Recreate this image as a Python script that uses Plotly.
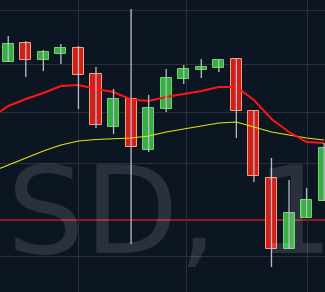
import plotly.graph_objects as go

# ---- data ----
idx = list(range(19))
opens  = [1.3038, 1.3057, 1.3040, 1.3046, 1.3052, 1.3026, 1.2973, 1.3001, 1.2950, 1.2991,
          1.3021, 1.3030, 1.3032, 1.3041, 1.2989, 1.2922, 1.2851, 1.2882, 1.2899]
highs  = [1.3064, 1.3059, 1.3050, 1.3056, 1.3054, 1.3033, 1.3011, 1.3091, 1.3005, 1.3031,
          1.3035, 1.3041, 1.3041, 1.3041, 1.2989, 1.2942, 1.2920, 1.2912, 1.2957]
lows   = [1.3038, 1.3023, 1.3029, 1.3036, 1.2991, 1.2972, 1.2966, 1.2856, 1.2948, 1.2988,
          1.3016, 1.3022, 1.3028, 1.2962, 1.2918, 1.2833, 1.2851, 1.2882, 1.2899]
closes = [1.3056, 1.3040, 1.3048, 1.3052, 1.3025, 1.2975, 1.3001, 1.2953, 1.2992, 1.3022,
          1.3031, 1.3033, 1.3040, 1.2989, 1.2924, 1.2851, 1.2887, 1.2900, 1.2952]

ma_x = list(range(-1, 19))
ma_fast = [1.2982, 1.2994, 1.3001, 1.3007, 1.3014, 1.3015, 1.3011, 1.3008, 1.30005, 1.2999,
           1.3003, 1.3006, 1.3009, 1.3013, 1.3013, 1.3000, 1.2981, 1.2968, 1.2958, 1.2957]
ma_slow = [1.2928, 1.2935, 1.2942, 1.2949, 1.2955, 1.2959, 1.29605, 1.2961, 1.2962, 1.2964,
           1.2968, 1.2971, 1.2974, 1.2977, 1.2978, 1.2973, 1.2968, 1.2965, 1.2962, 1.2960]

level = 1.2880
grid_y = [1.3090, 1.3036, 1.2988, 1.2937, 1.2844]
grid_x = [4.03, 10.13, 17.08]
watermark = "SD, 1"

BG = "#0c1522"
GRID = "#2b2f37"
UP_FILL, UP_LINE = "#38ad44", "#6fd46f"
DN_FILL, DN_LINE = "#d21f1a", "#f2a27a"
WICK = "#b9bec6"

fig = go.Figure()

fig.add_trace(go.Scatter(x=ma_x, y=ma_slow, mode="lines",
                         line=dict(color="#e3e30c", width=1.2), hoverinfo="skip"))
fig.add_trace(go.Scatter(x=ma_x, y=ma_fast, mode="lines",
                         line=dict(color="#ff1414", width=2), hoverinfo="skip"))

wx, wy = [], []
for i, h, l in zip(idx, highs, lows):
    wx += [i, i, None]
    wy += [h, l, None]
fig.add_trace(go.Scatter(x=wx, y=wy, mode="lines",
                         line=dict(color=WICK, width=1.3), hoverinfo="skip"))

base = [min(o, c) for o, c in zip(opens, closes)]
height = [abs(c - o) for o, c in zip(opens, closes)]
up = [c >= o for o, c in zip(opens, closes)]
fig.add_trace(go.Bar(
    x=idx, y=height, base=base, width=0.63,
    marker=dict(color=[UP_FILL if u else DN_FILL for u in up],
                line=dict(color=[UP_LINE if u else DN_LINE for u in up], width=1)),
    hoverinfo="skip"))

fig.add_shape(type="line", xref="paper", x0=0, x1=1, yref="y", y0=level, y1=level,
              line=dict(color="rgba(165,26,32,0.9)", width=2), layer="between")

fig.add_annotation(text=watermark, xref="paper", yref="paper", x=0, y=0.276,
                   xanchor="left", yanchor="middle", showarrow=False, xshift=5,
                   font=dict(family="DejaVu Sans", size=122, color="rgba(255,255,255,0.12)"))

fig.update_layout(
    width=325, height=292, margin=dict(l=0, r=0, t=0, b=0),
    paper_bgcolor=BG, plot_bgcolor=BG, showlegend=False, bargap=0,
)
fig.update_xaxes(range=[-0.47, 18.05], tickvals=grid_x, showticklabels=False,
                 showgrid=True, gridcolor=GRID, gridwidth=1, zeroline=False, showline=False)
fig.update_yaxes(range=[1.2808, 1.3100], tickvals=grid_y, showticklabels=False,
                 showgrid=True, gridcolor=GRID, gridwidth=1, zeroline=False, showline=False)

fig.write_html("out.html")
